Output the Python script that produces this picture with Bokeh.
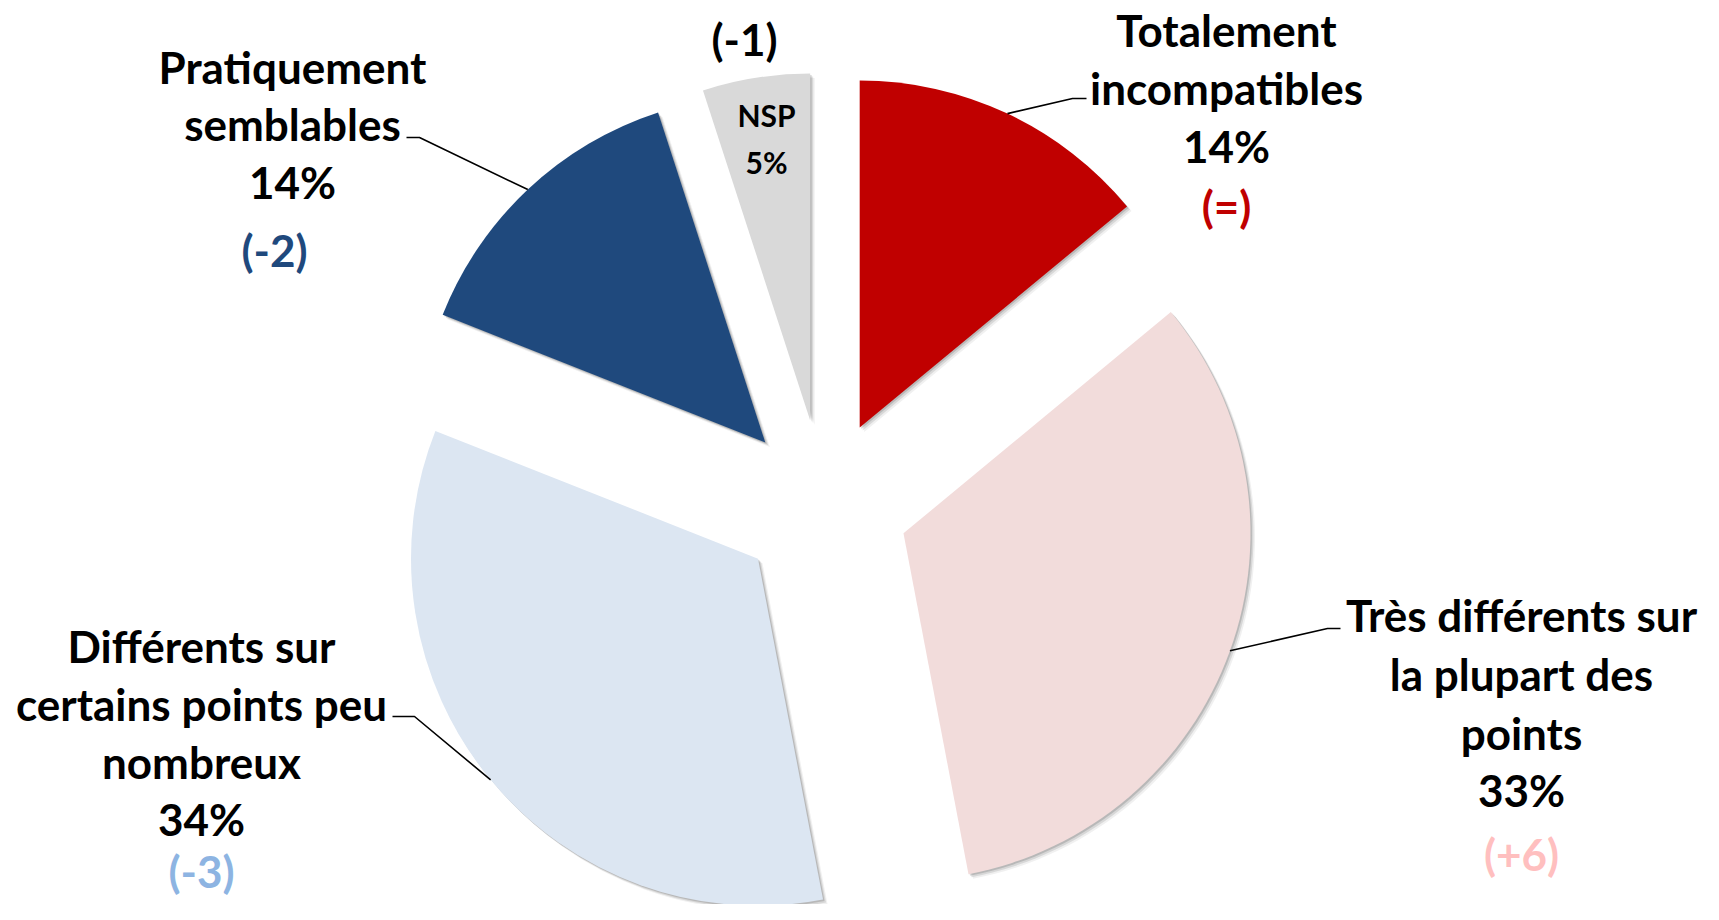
import numpy as np
from bokeh.plotting import figure
from bokeh.models import Range1d, ColumnDataSource
from bokeh.core.properties import value
from bokeh.embed import file_html
from bokeh.resources import INLINE

# ---------------- data ----------------
categories = ["Totalement incompatibles",
              "Très différents sur la plupart des points",
              "Différents sur certains points peu nombreux",
              "Pratiquement semblables",
              "NSP"]
values = [14, 33, 34, 14, 5]
changes = ["(=)", "(+6)", "(-3)", "(-2)", "(-1)"]
label_lines = [["Totalement", "incompatibles"],
               ["Très différents sur", "la plupart des", "points"],
               ["Différents sur", "certains points peu", "nombreux"],
               ["Pratiquement", "semblables"],
               ["NSP"]]

# ---------------- style ----------------
colors = ["#C00000", "#F2DCDB", "#DCE6F2", "#1F497D", "#D9D9D9"]
change_colors = ["#C00000", "#FFBFBF", "#8DB4E2", "#1F497D", "#000000"]
FONT = "Lato"
FS = 44
FS_SMALL = 30

# layout in picture pixels (from top-left)
CX, CY = 823, 504
R = 347
EXPLODE = 85
# label block: (center x, first line y, line spacing, pct y, change x, change y)
label_pos = [
    (1226, 29, 58, 145, 1226, 205),
    (1521, 614, 59, 789, 1521, 853),
    (201, 645, 58, 818, 201, 870),
    (292, 66, 57, 181, 274, 249),
    (766, 114, 0, 161, 744, 38),
]
# leader elbows: (elbow x, elbow y, end x)
leaders = [
    (1072, 98, 1086),
    (1327, 628, 1340),
    (414, 716, 392),
    (419, 137, 406),
    None,
]

W, H = 1703, 904


def dy(y):
    return 920 - y


p = figure(width=W, height=H, x_range=Range1d(0, W), y_range=Range1d(920 - H, 920),
           output_backend="svg", toolbar_location=None, min_border=0,
           x_axis_type=None, y_axis_type=None)
p.grid.visible = False
p.outline_line_color = None
p.background_fill_color = "white"

total = float(sum(values))
cum = np.concatenate([[0], np.cumsum(values)]) / total * 360.0
starts = cum[:-1]
ends = cum[1:]
mids = (starts + ends) / 2

apx, apy = [], []
for m in mids:
    mr = np.radians(m)
    apx.append(CX + EXPLODE * np.sin(mr))
    apy.append(CY - EXPLODE * np.cos(mr))
apx = np.array(apx)
apy = np.array(apy)

src = ColumnDataSource(dict(
    x=apx, y=dy(apy),
    start=np.radians(90 - ends), end=np.radians(90 - starts),
    color=colors, cat=categories, val=values,
))

# soft drop shadow
for off, a in [(4.5, 0.06), (3.0, 0.10), (1.5, 0.14)]:
    p.wedge(x=apx + off, y=dy(apy) - off, radius=R, start_angle=np.radians(90 - ends),
            end_angle=np.radians(90 - starts), fill_color="black", fill_alpha=a,
            line_color=None)

p.wedge(x="x", y="y", radius=R, start_angle="start", end_angle="end",
        fill_color="color", line_color=None, source=src)

# leader lines
for i, ld in enumerate(leaders):
    if ld is None:
        continue
    mr = np.radians(mids[i])
    ex = apx[i] + R * np.sin(mr)
    ey = apy[i] - R * np.cos(mr)
    ex2, ey2, tx = ld
    p.line([ex, ex2, tx], [dy(ey), dy(ey2), dy(ey2)], line_color="black", line_width=1.6)

# labels
for i in range(len(values)):
    lx, ly, sp, py, cx_, cy_ = label_pos[i]
    fs = FS_SMALL if categories[i] == "NSP" else FS
    xs, ys, ts = [], [], []
    for j, t in enumerate(label_lines[i]):
        xs.append(lx)
        ys.append(dy(ly + j * sp))
        ts.append(t)
    xs.append(lx)
    ys.append(dy(py))
    ts.append(f"{values[i]}%")
    p.text(x=xs, y=ys, text=ts, text_font=value(FONT), text_font_style="bold",
           text_font_size=f"{fs}px", text_align="center", text_baseline="middle",
           text_color="black")
    p.text(x=[cx_], y=[dy(cy_)], text=[changes[i]], text_font=value(FONT),
           text_font_style="bold", text_font_size=f"{FS}px", text_align="center",
           text_baseline="middle", text_color=change_colors[i])

open("out.html", "w").write(file_html(p, INLINE))
